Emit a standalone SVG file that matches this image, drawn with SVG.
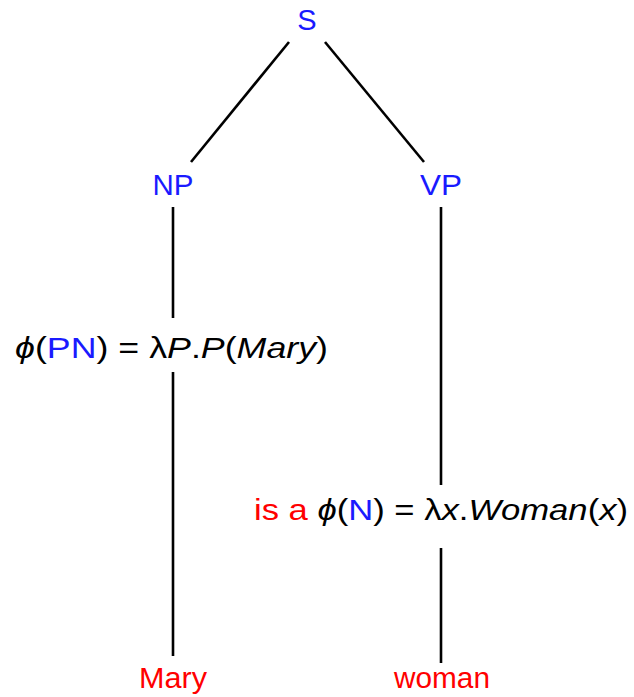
<svg xmlns="http://www.w3.org/2000/svg" width="634" height="697" viewBox="0 0 634 697">
<style>
text{font-family:"Liberation Sans","DejaVu Sans",sans-serif;font-size:29px;fill:#000}
.b{fill:#1a1aff}
.r{fill:#ff0000}
.i{font-style:italic}
.e{stroke:#000;stroke-width:2.6;fill:none}
</style>
<rect width="634" height="697" fill="#fff"/>
<g id="connectors">
<line class="e" x1="289" y1="42" x2="191" y2="162"/>
<line class="e" x1="325" y1="42" x2="424" y2="162"/>
<line class="e" x1="173" y1="207" x2="173" y2="318"/>
<line class="e" x1="173" y1="372" x2="173" y2="656"/>
<line class="e" x1="441" y1="207" x2="441" y2="485"/>
<line class="e" x1="441" y1="548" x2="441" y2="663"/>
</g>
<g id="S"><text class="b" x="307" y="30" text-anchor="middle">S</text></g>
<g id="NP"><text class="b" x="173" y="195" text-anchor="middle" textLength="41" lengthAdjust="spacingAndGlyphs">NP</text></g>
<g id="VP"><text class="b" x="441" y="195" text-anchor="middle" textLength="42" lengthAdjust="spacingAndGlyphs">VP</text></g>
<g id="PN"><text x="15" y="358" textLength="313" lengthAdjust="spacingAndGlyphs"><tspan class="i">ϕ</tspan>(<tspan class="b">PN</tspan>) = λ<tspan class="i">P</tspan>.<tspan class="i">P</tspan>(<tspan class="i">Mary</tspan>)</text></g>
<g id="N"><text x="254" y="520" textLength="374" lengthAdjust="spacingAndGlyphs"><tspan class="r">is a </tspan><tspan class="i">ϕ</tspan>(<tspan class="b">N</tspan>) = λ<tspan class="i">x</tspan>.<tspan class="i">Woman</tspan>(<tspan class="i">x</tspan>)</text></g>
<g id="Mary"><text class="r" x="173" y="688" text-anchor="middle" textLength="68" lengthAdjust="spacingAndGlyphs">Mary</text></g>
<g id="woman"><text class="r" x="442" y="688" text-anchor="middle" textLength="96" lengthAdjust="spacingAndGlyphs">woman</text></g>
</svg>
